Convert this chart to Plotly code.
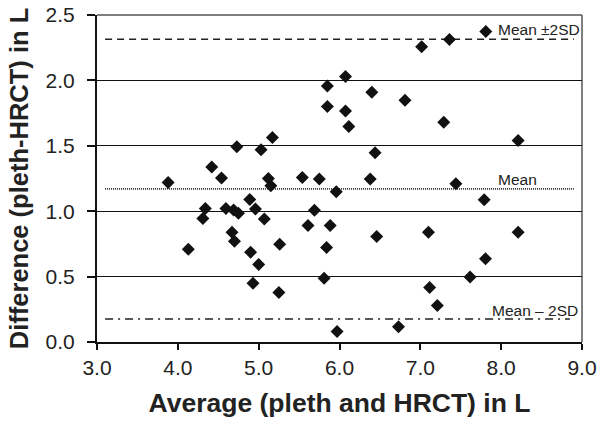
import plotly.graph_objects as go

# Bland-Altman data: average (x) vs difference (y), in litres
average = [3.88, 4.13, 4.31, 4.34, 4.42, 4.54, 4.595, 4.67, 4.69, 4.70,
           4.73, 4.75, 4.89, 4.90, 4.93, 4.96, 5.00, 5.03, 5.07, 5.12,
           5.15, 5.17, 5.25, 5.26, 5.54, 5.61, 5.69, 5.75, 5.81, 5.84,
           5.85, 5.85, 5.885, 5.96, 5.97, 6.074, 6.074, 6.115, 6.38, 6.40,
           6.44, 6.46, 6.73, 6.81, 7.016, 7.10, 7.115, 7.21, 7.29, 7.36,
           7.44, 7.615, 7.79, 7.806, 8.21, 8.21]
difference = [1.22, 0.71, 0.945, 1.02, 1.337, 1.253, 1.02, 0.84, 1.01, 0.77,
              1.492, 0.985, 1.09, 0.687, 0.45, 1.017, 0.593, 1.47, 0.94, 1.25,
              1.195, 1.563, 0.379, 0.748, 1.258, 0.891, 1.007, 1.247, 0.487, 0.722,
              1.958, 1.80, 0.891, 1.148, 0.081, 2.029, 1.767, 1.647, 1.247, 1.91,
              1.446, 0.807, 0.117, 1.849, 2.258, 0.84, 0.417, 0.28, 1.68, 2.312,
              1.209, 0.496, 1.087, 0.636, 1.54, 0.84]

mean_diff = 1.171
upper_limit = 2.315
lower_limit = 0.176
line_x = [3.1, 8.9]

legend_marker_x = [7.81]
legend_marker_y = [2.373]

x_ticks = [3.0, 4.0, 5.0, 6.0, 7.0, 8.0, 9.0]
x_labels = ["3.0", "4.0", "5.0", "6.0", "7.0", "8.0", "9.0"]
y_ticks = [0.0, 0.5, 1.0, 1.5, 2.0, 2.5]
y_labels = ["0.0", "0.5", "1.0", "1.5", "2.0", "2.5"]

FONT = "Arial, Liberation Sans, Helvetica, sans-serif"

fig = go.Figure()

fig.add_trace(go.Scatter(x=line_x, y=[upper_limit] * 2, mode="lines",
                         line=dict(color="#222", width=1.5, dash="7px,5px"),
                         hoverinfo="skip", showlegend=False))
fig.add_trace(go.Scatter(x=line_x, y=[mean_diff] * 2, mode="lines",
                         line=dict(color="#333", width=1.8, dash="1px,1px"),
                         hoverinfo="skip", showlegend=False))
fig.add_trace(go.Scatter(x=[line_x[0], 8.85], y=[lower_limit] * 2, mode="lines",
                         line=dict(color="#222", width=1.5, dash="8px,5px,2px,5px"),
                         hoverinfo="skip", showlegend=False))

fig.add_trace(go.Scatter(x=average, y=difference, mode="markers",
                         marker=dict(symbol="diamond", size=10, color="#111"),
                         showlegend=False))
fig.add_trace(go.Scatter(x=legend_marker_x, y=legend_marker_y, mode="markers",
                         marker=dict(symbol="diamond", size=10, color="#111"),
                         showlegend=False))

# border (top/right) in grey
fig.add_shape(type="line", xref="paper", yref="paper", x0=0, x1=1, y0=1, y1=1,
              line=dict(color="#555", width=1.5), layer="below")
fig.add_shape(type="line", xref="paper", yref="paper", x0=1, x1=1, y0=0, y1=1,
              line=dict(color="#555", width=1.5), layer="below")

ann_font = dict(family=FONT, size=15.5, color="#222")
fig.add_annotation(x=7.934, y=2.386, text="Mean ±2SD", showarrow=False,
                   xanchor="left", yanchor="middle", font=ann_font)
fig.add_annotation(x=7.934, y=1.24, text="Mean", showarrow=False,
                   xanchor="left", yanchor="middle", font=ann_font)
fig.add_annotation(x=7.86, y=0.241, text="Mean – 2SD", showarrow=False,
                   xanchor="left", yanchor="middle", font=ann_font)

fig.update_layout(
    width=598, height=423,
    margin=dict(l=97, r=16, t=15, b=81),
    paper_bgcolor="white", plot_bgcolor="white",
    font=dict(family=FONT, color="#222"),
    xaxis=dict(range=[3.0, 9.0], tickvals=x_ticks, ticktext=x_labels,
               showgrid=False, zeroline=False, automargin=False,
               showline=True, linecolor="#111", linewidth=1.5,
               ticks="outside", ticklen=6, tickcolor="#111", tickwidth=1.5,
               tickfont=dict(size=21, color="#222", family=FONT),
               title=dict(text="<b>Average (pleth and HRCT) in L</b>",
                          font=dict(size=26.5, color="#222", family=FONT),
                          standoff=15)),
    yaxis=dict(range=[0.0, 2.5], tickvals=y_ticks, ticktext=y_labels,
               showgrid=True, gridcolor="#111", gridwidth=1.3,
               zeroline=False, automargin=False,
               showline=True, linecolor="#111", linewidth=2,
               ticks="outside", ticklen=8, tickcolor="#111", tickwidth=1.5,
               ticklabelstandoff=8,
               tickfont=dict(size=21, color="#222", family=FONT),
               title=dict(text="<b>Difference (pleth-HRCT) in L</b>",
                          font=dict(size=25.5, color="#222", family=FONT),
                          standoff=10)),
)

fig.write_html("out.html", config={"displayModeBar": False},
               post_script="document.body.style.margin='0';document.body.style.overflow='hidden';")
